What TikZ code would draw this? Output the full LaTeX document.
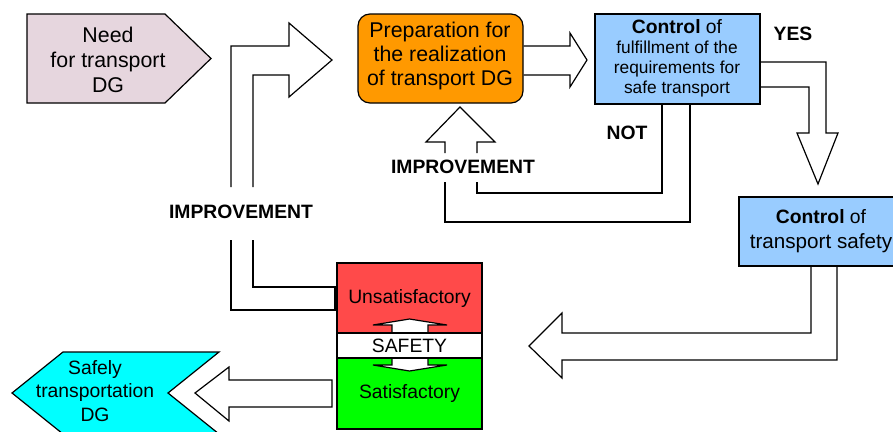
\documentclass[tikz,border=0pt]{standalone}
\usepackage{fontspec}
\setmainfont{Liberation Sans}
\definecolor{needc}{RGB}{230,214,222}
\definecolor{prepc}{RGB}{255,153,0}
\definecolor{ctrlc}{RGB}{153,204,255}
\definecolor{redc}{RGB}{255,74,74}
\definecolor{greenc}{RGB}{0,255,0}
\definecolor{cyanc}{RGB}{0,255,255}
\begin{document}
\begin{tikzpicture}[x=0.75pt,y=-0.75pt,
  outl/.style={draw=black, line width=0.9pt, line join=miter},
  boxn/.style={outl, inner sep=0pt, align=center, font=\fontsize{14.5}{18.75}\selectfont},
  lbl/.style={inner sep=0pt, font=\fontsize{14.5}{18}\selectfont\bfseries},
  txt/.style={inner sep=0pt, align=center}]
\useasboundingbox (0,0) rectangle (893,432);
\clip (0,0) rectangle (893,432);

% Need for transport DG (pentagon)
\draw[outl, fill=needc] (27,14) -- (165,14) -- (211,58.5) -- (165,103) -- (27,103) -- cycle;
\node[txt, font=\fontsize{16}{18.75}\selectfont] (need) at (108,60) {Need\\for transport\\DG};

% Preparation box
\node[boxn, fill=prepc, rounded corners=9pt, minimum width=123.75pt, minimum height=66.75pt,
      font=\fontsize{16}{18}\selectfont] (prep) at (440.5,58.5) {};
\node[txt, font=\fontsize{16}{18}\selectfont] (preptxt) at (440,56) {Preparation for\\the realization\\of transport DG};

% Control of fulfillment box
\node[boxn, fill=ctrlc, minimum width=123.75pt, minimum height=67.5pt] (ctrl1) at (677.5,59) {};
\node[txt, font=\fontsize{13}{15}\selectfont] (ctrl1txt) at (677,58)
  {{\fontsize{14.5}{15}\selectfont\textbf{Control} of}\\fulfillment of the\\requirements for\\safe transport};

% Control of transport safety box
\node[boxn, fill=ctrlc, minimum width=122.25pt, minimum height=51.75pt] (ctrl2) at (820.5,231.5) {};
\node[txt, font=\fontsize{15.5}{18.75}\selectfont] (ctrl2txt) at (821,231)
  {{\fontsize{14.5}{18.75}\selectfont\textbf{Control} of}\\transport safety};

% Safety block
\node[boxn, fill=redc, minimum width=108.75pt, minimum height=52.5pt] (unsat) at (409.5,298) {Unsatisfactory};
\node[boxn, fill=greenc, minimum width=108.75pt, minimum height=53.25pt] (sat) at (409.5,393.5) {Satisfactory};
% double arrow
\draw[outl, fill=white] (392,333) -- (392,325) -- (373,325) -- (409.5,319) -- (447,325) -- (428,325) -- (428,333)
   -- (428,358) -- (428,365) -- (447,365) -- (409.5,371) -- (373,365) -- (392,365) -- (392,358) -- cycle;
\node[boxn, fill=white, minimum width=108.75pt, minimum height=18.75pt] (safety) at (409.5,345.5) {SAFETY};

% Safely transportation DG (chevron)
\draw[outl, fill=cyanc] (63,352) -- (219,352) -- (168,393) -- (219,434) -- (63,434) -- (12,393) -- cycle;
\node[txt, font=\fontsize{14.5}{17.5}\selectfont] (safely) at (95,391) {Safely\\transportation\\DG};

% Prep -> Control arrow
\draw[outl] (prep.east |- 0,46) -- (570,46) -- (570,33) -- (587,60) -- (570,87) -- (570,75) -- (prep.east |- 0,75);

% Left improvement L-arrow
\draw[outl] (231,187) -- (231,46) -- (289,46) -- (289,23) -- (332,60) -- (289,97) -- (289,75) -- (253,75) -- (253,187);
\draw[outl] (231,240) -- (231,310) -- (335,310) -- (335,287) -- (253,287) -- (253,240);
\node[lbl] (imp1) at (241,212) {IMPROVEMENT};

% Up improvement arrow into prep
\draw[outl] (445,153) -- (445,142) -- (426,142) -- (460,107) -- (495,142) -- (477,142) -- (477,153);
\draw[outl] (477,182) -- (477,193) -- (662,193) -- (662,104);
\draw[outl] (445,182) -- (445,222) -- (690,222) -- (690,104);
\node[lbl] (imp2) at (463,167) {IMPROVEMENT};
\node[lbl] (not) at (627,133) {NOT};

% YES arrow
\draw[outl] (760,62) -- (826,62) -- (826,133) -- (838,133) -- (818,184) -- (797,133) -- (809,133) -- (809,87) -- (760,87);
\node[lbl] (yes) at (793,34) {YES};

% Control2 -> big left arrow
\draw[outl] (811,266) -- (811,333) -- (562,333) -- (562,313) -- (529,346) -- (562,378) -- (562,360) -- (837,360) -- (837,266);

% Satisfactory -> Safely arrow
\draw[outl] (332,380) -- (229,380) -- (229,367) -- (195,393) -- (229,421) -- (229,407) -- (332,407) -- cycle;
\end{tikzpicture}
\end{document}
